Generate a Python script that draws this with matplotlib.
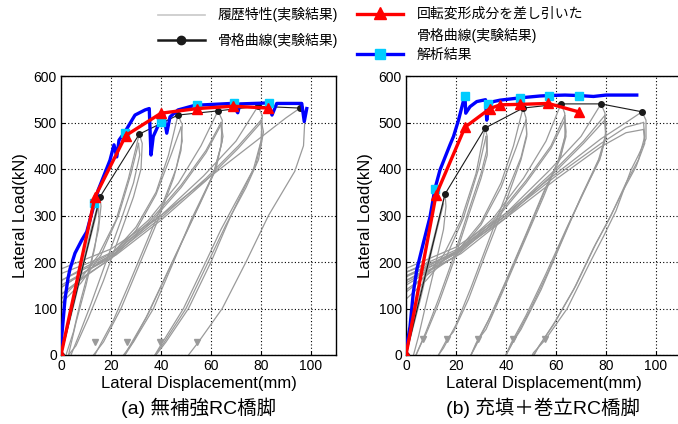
import matplotlib.pyplot as plt
from matplotlib.lines import Line2D

plt.rcParams['font.family'] = ['Liberation Sans', 'Noto Sans CJK JP']

# ---- (a) 無補強RC橋脚 ----
# 履歴特性 (実験結果): 除荷・再載荷の各経路 (mm, kN)
a_hyst = [
    [(0, 0), (4, 90), (8, 180), (12, 270), (15.6, 340)],
    [(15.6, 340), (16, 320), (15, 270), (12, 200), (8, 120), (5, 50), (2, 0)],
    [(15, 320), (15.2, 290), (13.5, 230), (10, 150), (6, 70), (3, 0)],
    [(0, 0), (5, 105), (10, 215), (15, 320)],
    [(-3, 100), (0, 120), (8, 165), (15, 215), (22, 290), (27, 380), (31.3, 475)],
    [(-3, 90), (0, 110), (8, 155), (16, 215), (23, 300), (28, 390), (31, 455)],
    [(31.3, 475), (32.5, 455), (32, 400), (29, 340), (23, 250), (17, 160), (11, 80), (6, 20), (3, 0)],
    [(31, 455), (31.5, 430), (29, 370), (24, 290), (18, 200), (12, 110), (7, 40), (4, 0)],
    [(-3, 130), (0, 145), (10, 180), (20, 215), (30, 275), (38, 350), (43, 430), (46.8, 516)],
    [(-3, 115), (0, 130), (10, 170), (20, 208), (30, 268), (38, 345), (44, 430), (48, 490)],
    [(46.8, 516), (48.5, 495), (48, 440), (45, 380), (38, 280), (31, 190), (24, 100), (17, 28), (13, 0), (12, -10)],
    [(48, 490), (48.5, 460), (46, 400), (41, 330), (34, 240), (27, 150), (21, 75), (15, 15), (13, -5)],
    [(-3, 150), (0, 160), (10, 190), (20, 218), (35, 290), (47, 370), (56, 450), (62.8, 525)],
    [(-3, 135), (0, 145), (10, 180), (20, 212), (35, 285), (48, 365), (58, 440), (64, 500)],
    [(-3, 120), (0, 130), (10, 172), (20, 207), (35, 280), (48, 360), (58, 435), (64, 495)],
    [(62.8, 525), (64.5, 505), (64, 450), (61, 390), (52, 290), (45, 200), (37, 100), (29, 28), (25, 0), (24, -10)],
    [(64, 500), (64.8, 470), (62, 400), (56, 330), (49, 250), (42, 170), (35, 90), (28, 20), (25, -5)],
    [(64, 495), (64.5, 460), (61, 390), (55, 320), (48, 240), (41, 160), (34, 80), (27, 15), (25, -5)],
    [(-3, 165), (0, 175), (12, 200), (22, 225), (40, 300), (57, 385), (70, 460), (78.8, 535)],
    [(-3, 150), (0, 160), (12, 192), (22, 220), (40, 295), (58, 380), (71, 450), (80, 505)],
    [(-3, 140), (0, 150), (12, 186), (22, 215), (40, 290), (58, 375), (71, 445), (80, 500)],
    [(78.8, 535), (80.5, 515), (80, 460), (77, 400), (68, 300), (60, 200), (51, 100), (42, 28), (38, 0), (36, -20)],
    [(80, 505), (81, 480), (79, 420), (74, 360), (66, 280), (58, 190), (50, 100), (41, 25), (37, -5)],
    [(80, 500), (80.5, 470), (78, 410), (72, 350), (64, 270), (57, 190), (49, 100), (40, 22), (37, -5)],
    [(-3, 175), (0, 185), (20, 228), (40, 300), (60, 385), (78, 460), (90, 510), (95.6, 531)],
    [(95.6, 531), (97.6, 512), (97, 450), (93.5, 395), (83, 300), (74, 200), (64.5, 100), (55, 28), (51, 0), (49, -20)],
]
a_arrow_x = [13.6, 26.3, 39.6, 54.3]
a_arrow_y = [28, 28, 28, 28]

# 骨格曲線 (実験結果)
a_skel_x = [0, 15.6, 31.3, 46.8, 62.8, 78.8, 95.6]
a_skel_y = [0, 340, 475, 516, 525, 535, 531]
# 回転変形成分を差し引いた骨格曲線
a_red_x = [0, 13.6, 25.9, 40.0, 54.5, 68.9, 82.8]
a_red_y = [0, 340, 472, 520, 530, 535, 531]
# 解析結果
a_ana_x = [0, 0.3, 1.6, 2.8, 3.6, 5.6, 8.3, 10.3, 12.3, 14.9, 19.6, 21.2, 22.3, 23.2, 25.6, 29.6, 33.6,
           35.3, 36.0, 36.9, 39.6, 41.0, 42.3, 43.6, 46.8, 53.6, 68.3, 70.7, 71.6, 82.8, 84.4, 86.3,
           96.3, 97.3, 98.3]
a_ana_y = [0, 40, 120, 165, 185, 219, 247, 265, 305, 355, 419, 452, 426, 462, 480, 516, 527,
           530, 430, 470, 502, 520, 477, 512, 527, 537, 541, 521, 540, 542, 516, 541,
           541, 502, 530]
a_sq_x = [13.3, 25.6, 40.0, 54.3, 69.0, 83.2]
a_sq_y = [326, 477, 502, 538, 543, 543]

# ---- (b) 充填＋巻立RC橋脚 ----
b_hyst = [
    [(0, 0), (4, 95), (8, 185), (12, 270), (15.6, 346)],
    [(15.6, 346), (16, 320), (15, 270), (12, 200), (8, 110), (5, 40), (3, 0)],
    [(0, 0), (6, 125), (11, 240), (15, 325)],
    [(-3, 120), (0, 135), (8, 170), (15, 215), (22, 290), (28, 390), (31.6, 488)],
    [(-3, 105), (0, 120), (8, 160), (16, 210), (23, 295), (29, 400), (32, 470)],
    [(31.6, 488), (32.5, 470), (32.5, 430), (30, 380), (25, 300), (19, 200), (13, 110), (8, 45), (6.9, 34), (4, 0)],
    [(32, 470), (32.3, 440), (30, 390), (25, 310), (19, 210), (13, 120), (8, 50), (4, 0)],
    [(-3, 140), (0, 155), (10, 185), (20, 220), (30, 285), (38, 370), (43, 450), (46.8, 531)],
    [(-3, 125), (0, 140), (10, 178), (20, 214), (30, 280), (38, 360), (44, 445), (48, 505)],
    [(46.8, 531), (48, 510), (48.3, 470), (46, 420), (40, 330), (32, 220), (25, 120), (19, 50), (16.4, 34), (13, 0)],
    [(48, 505), (48.3, 475), (46, 425), (40, 345), (33, 245), (26, 145), (20, 65), (15, 15), (13, 0)],
    [(-3, 160), (0, 170), (10, 195), (20, 222), (35, 295), (47, 380), (56, 460), (62, 540)],
    [(-3, 150), (0, 160), (10, 190), (20, 218), (35, 290), (48, 375), (58, 450), (63.5, 515)],
    [(-3, 140), (0, 150), (10, 183), (20, 212), (35, 285), (48, 370), (58, 445), (63.5, 505)],
    [(62, 540), (63.5, 520), (63.6, 470), (61, 420), (55, 340), (47, 240), (39, 140), (32, 55), (29, 34), (26, 0)],
    [(63.5, 515), (64, 480), (62, 430), (56, 360), (49, 270), (41, 170), (34, 85), (28, 25), (26, 0)],
    [(63.5, 505), (64, 470), (61.5, 420), (55, 350), (48, 260), (40, 160), (33, 75), (28, 20), (26, 0)],
    [(-3, 170), (0, 178), (12, 202), (22, 228), (40, 305), (57, 395), (70, 470), (78, 540)],
    [(-3, 160), (0, 168), (12, 196), (22, 224), (40, 300), (58, 390), (71, 460), (79.5, 515)],
    [(-3, 150), (0, 160), (12, 190), (22, 218), (40, 295), (58, 385), (71, 455), (79.5, 505)],
    [(78, 540), (79.6, 520), (79.8, 470), (77, 420), (70, 340), (62, 240), (54, 140), (46, 55), (43, 30), (40, 0)],
    [(79.5, 515), (80, 480), (78, 430), (72, 360), (65, 280), (57, 180), (49, 90), (43, 30), (40, 0)],
    [(79.5, 505), (80, 470), (77.5, 420), (71, 350), (64, 270), (56, 175), (48, 85), (42, 25), (40, 0)],
    [(-3, 180), (0, 186), (20, 232), (40, 305), (60, 390), (78, 465), (88, 500), (94.4, 523)],
    [(-3, 172), (0, 178), (20, 226), (40, 300), (60, 385), (78, 455), (88, 490), (95, 500)],
    [(-3, 165), (0, 170), (20, 220), (40, 295), (60, 378), (78, 448), (88, 478), (95, 485)],
    [(94.4, 523), (96, 505), (96, 465), (93, 430), (90, 398), (84, 310), (79, 255), (73.5, 198), (64.5, 100), (55.6, 32), (51, 5), (50, -5)],
    [(95, 500), (95.5, 470), (93, 420), (88, 370), (82, 300), (76, 240), (68, 150), (60, 75), (54, 25), (51, 0)],
    [(95, 485), (95.5, 455), (92, 405), (87, 355), (81, 290), (75, 230), (67, 140), (59, 65), (53, 18), (51, -3)],
]
b_arrow_x = [6.9, 16.4, 28.9, 42.9, 55.6]
b_arrow_y = [34, 34, 34, 34, 34]

b_skel_x = [0, 15.6, 31.6, 46.8, 62.0, 78.0, 94.4]
b_skel_y = [0, 346, 488, 531, 540, 540, 523]
b_red_x = [0, 12.0, 23.6, 33.6, 37.6, 45.6, 56.9, 69.0]
b_red_y = [0, 344, 490, 530, 538, 539, 541, 523]
b_ana_x = [0, 0.3, 1.6, 2.9, 4.3, 6.9, 9.6, 11.6, 13.6, 17.6, 19.0, 21.0, 22.9, 23.6, 23.9, 25.6,
           28.3, 30.9, 31.8, 32.3, 32.9, 35.0, 37.6, 45.6, 53.6, 57.2, 63.6, 69.0, 75.0, 80.0, 92.3]
b_ana_y = [0, 20, 61, 133, 183, 240, 297, 358, 398, 452, 470, 505, 545, 556, 520, 534,
           545, 548, 549, 505, 539, 545, 548, 553, 557, 558, 559, 558, 556, 559, 559]
b_sq_x = [11.6, 23.6, 32.9, 45.6, 57.2, 69.0]
b_sq_y = [358, 556, 540, 553, 558, 558]

xticks = [0, 20, 40, 60, 80, 100]
yticks = [0, 100, 200, 300, 400, 500, 600]
captions = ['(a) 無補強RC橋脚', '(b) 充填＋巻立RC橋脚']

GRAY = '#9a9a9a'
BLUE = '#0000ff'
CYAN = '#00ccff'
RED = '#ff0000'

fig = plt.figure(figsize=(6.78, 4.24), dpi=100)
ax_a = fig.add_axes([61 / 678, 69 / 424, 275 / 678, 279 / 424])
ax_b = fig.add_axes([406 / 678, 69 / 424, 275 / 678, 279 / 424])

panels = [
    (ax_a, a_hyst, a_arrow_x, a_arrow_y, a_skel_x, a_skel_y, a_red_x, a_red_y, a_ana_x, a_ana_y, a_sq_x, a_sq_y),
    (ax_b, b_hyst, b_arrow_x, b_arrow_y, b_skel_x, b_skel_y, b_red_x, b_red_y, b_ana_x, b_ana_y, b_sq_x, b_sq_y),
]

for i, (ax, hyst, arx, ary, skx, sky, rx, ry, anx, any_, sqx, sqy) in enumerate(panels):
    for path in hyst:
        xs = [p[0] for p in path]
        ys = [p[1] for p in path]
        ax.plot(xs, ys, color=GRAY, lw=0.9, zorder=2)
    ax.plot(arx, ary, ls='none', marker='v', ms=4, color=GRAY, zorder=2)
    ax.plot(skx, sky, color='#1a1a1a', lw=0.8, marker='o', ms=4, zorder=3)
    ax.plot(anx, any_, color=BLUE, lw=2.4, zorder=4, solid_joinstyle='round')
    ax.plot(sqx, sqy, ls='none', marker='s', ms=6, color=CYAN, zorder=5)
    ax.plot(rx, ry, color=RED, lw=2.4, marker='^', ms=7, zorder=6)

    ax.set_xlim(0, 110)
    ax.set_ylim(0, 600)
    ax.set_xticks(xticks)
    ax.set_yticks(yticks)
    ax.grid(True, color='black', ls=(0, (1, 2)), lw=0.8)
    ax.tick_params(direction='in', length=3, labelsize=10, pad=3)
    for sp in ax.spines.values():
        sp.set_linewidth(1.0)
    ax.set_xlabel('Lateral Displacement(mm)', fontsize=12, labelpad=2)
    ax.set_ylabel('Lateral Load(kN)', fontsize=12, labelpad=4)
    ax.text(137.5 / 275, -0.19, captions[i], transform=ax.transAxes,
            ha='center', va='center', fontsize=14)

# 凡例 (図の上部)
leg = fig.add_axes([0, 0, 1, 1], zorder=10)
leg.set_xlim(0, 678)
leg.set_ylim(424, 0)
leg.axis('off')
leg.add_line(Line2D([158, 205], [15, 15], color='#c8c8c8', lw=1.2))
leg.add_line(Line2D([158, 205], [40, 40], color='#1a1a1a', lw=1.8))
leg.add_line(Line2D([181], [40], color='#1a1a1a', marker='o', ms=6))
leg.add_line(Line2D([357, 403], [14, 14], color=RED, lw=2.4))
leg.add_line(Line2D([380], [13], color=RED, marker='^', ms=8))
leg.add_line(Line2D([357, 403], [54, 54], color=BLUE, lw=2.4))
leg.add_line(Line2D([380], [54], color=CYAN, marker='s', ms=7))
leg.text(218, 15, '履歴特性(実験結果)', fontsize=10, va='center')
leg.text(218, 40, '骨格曲線(実験結果)', fontsize=10, va='center')
leg.text(417, 14, '回転変形成分を差し引いた', fontsize=10, va='center')
leg.text(417, 35, '骨格曲線(実験結果)', fontsize=10, va='center')
leg.text(417, 55, '解析結果', fontsize=10, va='center')

fig.savefig('out.png', dpi=100)
